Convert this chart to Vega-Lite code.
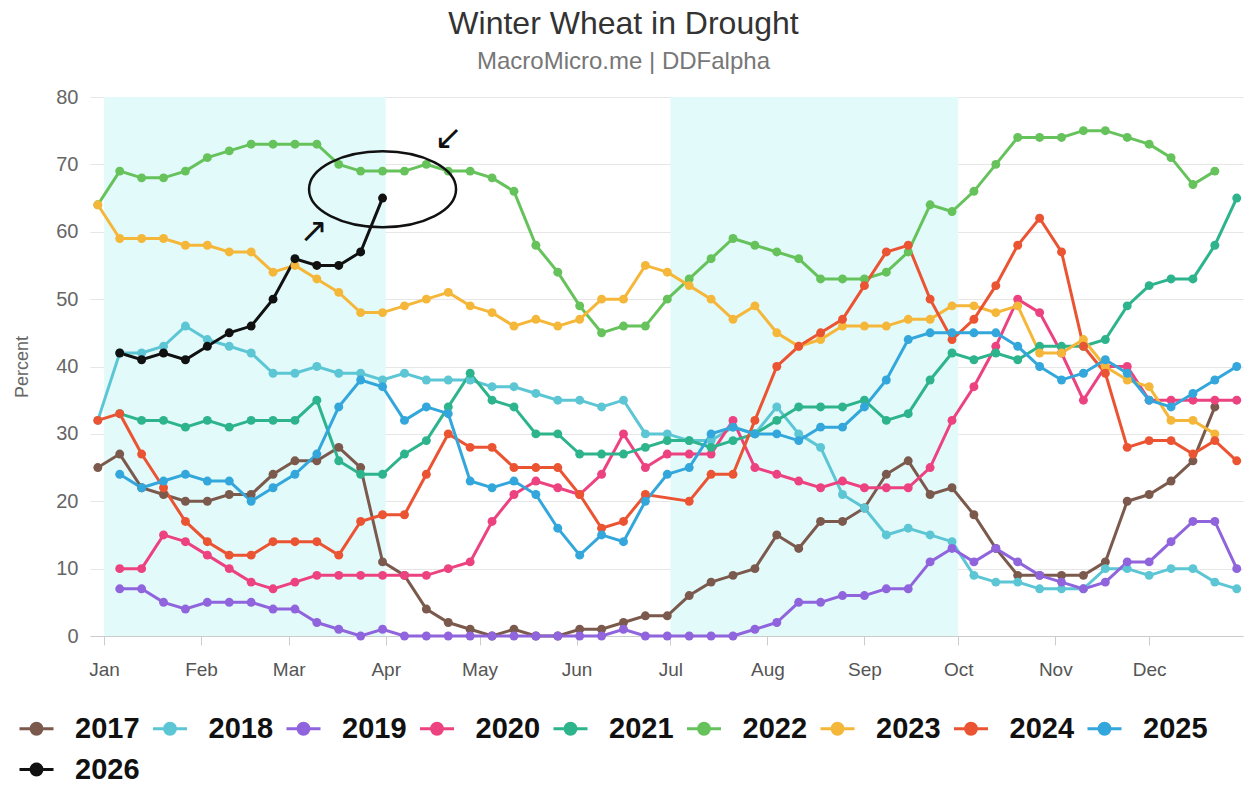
{
"$schema":"https://vega.github.io/schema/vega-lite/v6.json",
"width":1153,"height":539,
"autosize":{"type":"none"},
"padding":{"left":90,"top":97,"right":2,"bottom":149},
"background":"white",
"config":{"view":{"stroke":null},"font":"Liberation Sans"},
"title":{"text":"Winter Wheat in Drought","subtitle":"MacroMicro.me | DDFalpha","fontSize":32,"fontWeight":"normal","color":"#333333","subtitleFontSize":24,"subtitleColor":"#777777","subtitlePadding":9,"anchor":"middle","dx":-43,"offset":12},
"datasets":{
"bands":[{"s":"2025-01-01","e":"2025-04-01"},{"s":"2025-07-01","e":"2025-10-01"}],
"ellipse":[{"d":"2025-03-31","v":66.3}],
"arrows":[{"d":"2025-03-09","v":60,"t":"↗"},{"d":"2025-04-21","v":73.7,"t":"↙"}],
"series":[
{"s":"2017","d":"2024-12-30","v":25},{"s":"2017","d":"2025-01-06","v":27},{"s":"2017","d":"2025-01-13","v":22},{"s":"2017","d":"2025-01-20","v":21},{"s":"2017","d":"2025-01-27","v":20},{"s":"2017","d":"2025-02-03","v":20},{"s":"2017","d":"2025-02-10","v":21},{"s":"2017","d":"2025-02-17","v":21},{"s":"2017","d":"2025-02-24","v":24},{"s":"2017","d":"2025-03-03","v":26},{"s":"2017","d":"2025-03-10","v":26},{"s":"2017","d":"2025-03-17","v":28},{"s":"2017","d":"2025-03-24","v":25},{"s":"2017","d":"2025-03-31","v":11},{"s":"2017","d":"2025-04-07","v":9},{"s":"2017","d":"2025-04-14","v":4},{"s":"2017","d":"2025-04-21","v":2},{"s":"2017","d":"2025-04-28","v":1},{"s":"2017","d":"2025-05-05","v":0},{"s":"2017","d":"2025-05-12","v":1},{"s":"2017","d":"2025-05-19","v":0},{"s":"2017","d":"2025-05-26","v":0},{"s":"2017","d":"2025-06-02","v":1},{"s":"2017","d":"2025-06-09","v":1},{"s":"2017","d":"2025-06-16","v":2},{"s":"2017","d":"2025-06-23","v":3},{"s":"2017","d":"2025-06-30","v":3},{"s":"2017","d":"2025-07-07","v":6},{"s":"2017","d":"2025-07-14","v":8},{"s":"2017","d":"2025-07-21","v":9},{"s":"2017","d":"2025-07-28","v":10},{"s":"2017","d":"2025-08-04","v":15},{"s":"2017","d":"2025-08-11","v":13},{"s":"2017","d":"2025-08-18","v":17},{"s":"2017","d":"2025-08-25","v":17},{"s":"2017","d":"2025-09-01","v":19},{"s":"2017","d":"2025-09-08","v":24},{"s":"2017","d":"2025-09-15","v":26},{"s":"2017","d":"2025-09-22","v":21},{"s":"2017","d":"2025-09-29","v":22},{"s":"2017","d":"2025-10-06","v":18},{"s":"2017","d":"2025-10-13","v":13},{"s":"2017","d":"2025-10-20","v":9},{"s":"2017","d":"2025-10-27","v":9},{"s":"2017","d":"2025-11-03","v":9},{"s":"2017","d":"2025-11-10","v":9},{"s":"2017","d":"2025-11-17","v":11},{"s":"2017","d":"2025-11-24","v":20},{"s":"2017","d":"2025-12-01","v":21},{"s":"2017","d":"2025-12-08","v":23},{"s":"2017","d":"2025-12-15","v":26},{"s":"2017","d":"2025-12-22","v":34},
{"s":"2018","d":"2024-12-30","v":32},{"s":"2018","d":"2025-01-06","v":42},{"s":"2018","d":"2025-01-13","v":42},{"s":"2018","d":"2025-01-20","v":43},{"s":"2018","d":"2025-01-27","v":46},{"s":"2018","d":"2025-02-03","v":44},{"s":"2018","d":"2025-02-10","v":43},{"s":"2018","d":"2025-02-17","v":42},{"s":"2018","d":"2025-02-24","v":39},{"s":"2018","d":"2025-03-03","v":39},{"s":"2018","d":"2025-03-10","v":40},{"s":"2018","d":"2025-03-17","v":39},{"s":"2018","d":"2025-03-24","v":39},{"s":"2018","d":"2025-03-31","v":38},{"s":"2018","d":"2025-04-07","v":39},{"s":"2018","d":"2025-04-14","v":38},{"s":"2018","d":"2025-04-21","v":38},{"s":"2018","d":"2025-04-28","v":38},{"s":"2018","d":"2025-05-05","v":37},{"s":"2018","d":"2025-05-12","v":37},{"s":"2018","d":"2025-05-19","v":36},{"s":"2018","d":"2025-05-26","v":35},{"s":"2018","d":"2025-06-02","v":35},{"s":"2018","d":"2025-06-09","v":34},{"s":"2018","d":"2025-06-16","v":35},{"s":"2018","d":"2025-06-23","v":30},{"s":"2018","d":"2025-06-30","v":30},{"s":"2018","d":"2025-07-07","v":29},{"s":"2018","d":"2025-07-14","v":29},{"s":"2018","d":"2025-07-21","v":31},{"s":"2018","d":"2025-07-28","v":30},{"s":"2018","d":"2025-08-04","v":34},{"s":"2018","d":"2025-08-11","v":30},{"s":"2018","d":"2025-08-18","v":28},{"s":"2018","d":"2025-08-25","v":21},{"s":"2018","d":"2025-09-01","v":19},{"s":"2018","d":"2025-09-08","v":15},{"s":"2018","d":"2025-09-15","v":16},{"s":"2018","d":"2025-09-22","v":15},{"s":"2018","d":"2025-09-29","v":14},{"s":"2018","d":"2025-10-06","v":9},{"s":"2018","d":"2025-10-13","v":8},{"s":"2018","d":"2025-10-20","v":8},{"s":"2018","d":"2025-10-27","v":7},{"s":"2018","d":"2025-11-03","v":7},{"s":"2018","d":"2025-11-10","v":7},{"s":"2018","d":"2025-11-17","v":10},{"s":"2018","d":"2025-11-24","v":10},{"s":"2018","d":"2025-12-01","v":9},{"s":"2018","d":"2025-12-08","v":10},{"s":"2018","d":"2025-12-15","v":10},{"s":"2018","d":"2025-12-22","v":8},{"s":"2018","d":"2025-12-29","v":7},
{"s":"2019","d":"2025-01-06","v":7},{"s":"2019","d":"2025-01-13","v":7},{"s":"2019","d":"2025-01-20","v":5},{"s":"2019","d":"2025-01-27","v":4},{"s":"2019","d":"2025-02-03","v":5},{"s":"2019","d":"2025-02-10","v":5},{"s":"2019","d":"2025-02-17","v":5},{"s":"2019","d":"2025-02-24","v":4},{"s":"2019","d":"2025-03-03","v":4},{"s":"2019","d":"2025-03-10","v":2},{"s":"2019","d":"2025-03-17","v":1},{"s":"2019","d":"2025-03-24","v":0},{"s":"2019","d":"2025-03-31","v":1},{"s":"2019","d":"2025-04-07","v":0},{"s":"2019","d":"2025-04-14","v":0},{"s":"2019","d":"2025-04-21","v":0},{"s":"2019","d":"2025-04-28","v":0},{"s":"2019","d":"2025-05-05","v":0},{"s":"2019","d":"2025-05-12","v":0},{"s":"2019","d":"2025-05-19","v":0},{"s":"2019","d":"2025-05-26","v":0},{"s":"2019","d":"2025-06-02","v":0},{"s":"2019","d":"2025-06-09","v":0},{"s":"2019","d":"2025-06-16","v":1},{"s":"2019","d":"2025-06-23","v":0},{"s":"2019","d":"2025-06-30","v":0},{"s":"2019","d":"2025-07-07","v":0},{"s":"2019","d":"2025-07-14","v":0},{"s":"2019","d":"2025-07-21","v":0},{"s":"2019","d":"2025-07-28","v":1},{"s":"2019","d":"2025-08-04","v":2},{"s":"2019","d":"2025-08-11","v":5},{"s":"2019","d":"2025-08-18","v":5},{"s":"2019","d":"2025-08-25","v":6},{"s":"2019","d":"2025-09-01","v":6},{"s":"2019","d":"2025-09-08","v":7},{"s":"2019","d":"2025-09-15","v":7},{"s":"2019","d":"2025-09-22","v":11},{"s":"2019","d":"2025-09-29","v":13},{"s":"2019","d":"2025-10-06","v":11},{"s":"2019","d":"2025-10-13","v":13},{"s":"2019","d":"2025-10-20","v":11},{"s":"2019","d":"2025-10-27","v":9},{"s":"2019","d":"2025-11-03","v":8},{"s":"2019","d":"2025-11-10","v":7},{"s":"2019","d":"2025-11-17","v":8},{"s":"2019","d":"2025-11-24","v":11},{"s":"2019","d":"2025-12-01","v":11},{"s":"2019","d":"2025-12-08","v":14},{"s":"2019","d":"2025-12-15","v":17},{"s":"2019","d":"2025-12-22","v":17},{"s":"2019","d":"2025-12-29","v":10},
{"s":"2020","d":"2025-01-06","v":10},{"s":"2020","d":"2025-01-13","v":10},{"s":"2020","d":"2025-01-20","v":15},{"s":"2020","d":"2025-01-27","v":14},{"s":"2020","d":"2025-02-03","v":12},{"s":"2020","d":"2025-02-10","v":10},{"s":"2020","d":"2025-02-17","v":8},{"s":"2020","d":"2025-02-24","v":7},{"s":"2020","d":"2025-03-03","v":8},{"s":"2020","d":"2025-03-10","v":9},{"s":"2020","d":"2025-03-17","v":9},{"s":"2020","d":"2025-03-24","v":9},{"s":"2020","d":"2025-03-31","v":9},{"s":"2020","d":"2025-04-07","v":9},{"s":"2020","d":"2025-04-14","v":9},{"s":"2020","d":"2025-04-21","v":10},{"s":"2020","d":"2025-04-28","v":11},{"s":"2020","d":"2025-05-05","v":17},{"s":"2020","d":"2025-05-12","v":21},{"s":"2020","d":"2025-05-19","v":23},{"s":"2020","d":"2025-05-26","v":22},{"s":"2020","d":"2025-06-02","v":21},{"s":"2020","d":"2025-06-09","v":24},{"s":"2020","d":"2025-06-16","v":30},{"s":"2020","d":"2025-06-23","v":25},{"s":"2020","d":"2025-06-30","v":27},{"s":"2020","d":"2025-07-07","v":27},{"s":"2020","d":"2025-07-14","v":27},{"s":"2020","d":"2025-07-21","v":32},{"s":"2020","d":"2025-07-28","v":25},{"s":"2020","d":"2025-08-04","v":24},{"s":"2020","d":"2025-08-11","v":23},{"s":"2020","d":"2025-08-18","v":22},{"s":"2020","d":"2025-08-25","v":23},{"s":"2020","d":"2025-09-01","v":22},{"s":"2020","d":"2025-09-08","v":22},{"s":"2020","d":"2025-09-15","v":22},{"s":"2020","d":"2025-09-22","v":25},{"s":"2020","d":"2025-09-29","v":32},{"s":"2020","d":"2025-10-06","v":37},{"s":"2020","d":"2025-10-13","v":43},{"s":"2020","d":"2025-10-20","v":50},{"s":"2020","d":"2025-10-27","v":48},{"s":"2020","d":"2025-11-03","v":42},{"s":"2020","d":"2025-11-10","v":35},{"s":"2020","d":"2025-11-17","v":40},{"s":"2020","d":"2025-11-24","v":40},{"s":"2020","d":"2025-12-01","v":35},{"s":"2020","d":"2025-12-08","v":35},{"s":"2020","d":"2025-12-15","v":35},{"s":"2020","d":"2025-12-22","v":35},{"s":"2020","d":"2025-12-29","v":35},
{"s":"2021","d":"2025-01-06","v":33},{"s":"2021","d":"2025-01-13","v":32},{"s":"2021","d":"2025-01-20","v":32},{"s":"2021","d":"2025-01-27","v":31},{"s":"2021","d":"2025-02-03","v":32},{"s":"2021","d":"2025-02-10","v":31},{"s":"2021","d":"2025-02-17","v":32},{"s":"2021","d":"2025-02-24","v":32},{"s":"2021","d":"2025-03-03","v":32},{"s":"2021","d":"2025-03-10","v":35},{"s":"2021","d":"2025-03-17","v":26},{"s":"2021","d":"2025-03-24","v":24},{"s":"2021","d":"2025-03-31","v":24},{"s":"2021","d":"2025-04-07","v":27},{"s":"2021","d":"2025-04-14","v":29},{"s":"2021","d":"2025-04-21","v":34},{"s":"2021","d":"2025-04-28","v":39},{"s":"2021","d":"2025-05-05","v":35},{"s":"2021","d":"2025-05-12","v":34},{"s":"2021","d":"2025-05-19","v":30},{"s":"2021","d":"2025-05-26","v":30},{"s":"2021","d":"2025-06-02","v":27},{"s":"2021","d":"2025-06-09","v":27},{"s":"2021","d":"2025-06-16","v":27},{"s":"2021","d":"2025-06-23","v":28},{"s":"2021","d":"2025-06-30","v":29},{"s":"2021","d":"2025-07-07","v":29},{"s":"2021","d":"2025-07-14","v":28},{"s":"2021","d":"2025-07-21","v":29},{"s":"2021","d":"2025-07-28","v":30},{"s":"2021","d":"2025-08-04","v":32},{"s":"2021","d":"2025-08-11","v":34},{"s":"2021","d":"2025-08-18","v":34},{"s":"2021","d":"2025-08-25","v":34},{"s":"2021","d":"2025-09-01","v":35},{"s":"2021","d":"2025-09-08","v":32},{"s":"2021","d":"2025-09-15","v":33},{"s":"2021","d":"2025-09-22","v":38},{"s":"2021","d":"2025-09-29","v":42},{"s":"2021","d":"2025-10-06","v":41},{"s":"2021","d":"2025-10-13","v":42},{"s":"2021","d":"2025-10-20","v":41},{"s":"2021","d":"2025-10-27","v":43},{"s":"2021","d":"2025-11-03","v":43},{"s":"2021","d":"2025-11-10","v":43},{"s":"2021","d":"2025-11-17","v":44},{"s":"2021","d":"2025-11-24","v":49},{"s":"2021","d":"2025-12-01","v":52},{"s":"2021","d":"2025-12-08","v":53},{"s":"2021","d":"2025-12-15","v":53},{"s":"2021","d":"2025-12-22","v":58},{"s":"2021","d":"2025-12-29","v":65},
{"s":"2022","d":"2024-12-30","v":64},{"s":"2022","d":"2025-01-06","v":69},{"s":"2022","d":"2025-01-13","v":68},{"s":"2022","d":"2025-01-20","v":68},{"s":"2022","d":"2025-01-27","v":69},{"s":"2022","d":"2025-02-03","v":71},{"s":"2022","d":"2025-02-10","v":72},{"s":"2022","d":"2025-02-17","v":73},{"s":"2022","d":"2025-02-24","v":73},{"s":"2022","d":"2025-03-03","v":73},{"s":"2022","d":"2025-03-10","v":73},{"s":"2022","d":"2025-03-17","v":70},{"s":"2022","d":"2025-03-24","v":69},{"s":"2022","d":"2025-03-31","v":69},{"s":"2022","d":"2025-04-07","v":69},{"s":"2022","d":"2025-04-14","v":70},{"s":"2022","d":"2025-04-21","v":69},{"s":"2022","d":"2025-04-28","v":69},{"s":"2022","d":"2025-05-05","v":68},{"s":"2022","d":"2025-05-12","v":66},{"s":"2022","d":"2025-05-19","v":58},{"s":"2022","d":"2025-05-26","v":54},{"s":"2022","d":"2025-06-02","v":49},{"s":"2022","d":"2025-06-09","v":45},{"s":"2022","d":"2025-06-16","v":46},{"s":"2022","d":"2025-06-23","v":46},{"s":"2022","d":"2025-06-30","v":50},{"s":"2022","d":"2025-07-07","v":53},{"s":"2022","d":"2025-07-14","v":56},{"s":"2022","d":"2025-07-21","v":59},{"s":"2022","d":"2025-07-28","v":58},{"s":"2022","d":"2025-08-04","v":57},{"s":"2022","d":"2025-08-11","v":56},{"s":"2022","d":"2025-08-18","v":53},{"s":"2022","d":"2025-08-25","v":53},{"s":"2022","d":"2025-09-01","v":53},{"s":"2022","d":"2025-09-08","v":54},{"s":"2022","d":"2025-09-15","v":57},{"s":"2022","d":"2025-09-22","v":64},{"s":"2022","d":"2025-09-29","v":63},{"s":"2022","d":"2025-10-06","v":66},{"s":"2022","d":"2025-10-13","v":70},{"s":"2022","d":"2025-10-20","v":74},{"s":"2022","d":"2025-10-27","v":74},{"s":"2022","d":"2025-11-03","v":74},{"s":"2022","d":"2025-11-10","v":75},{"s":"2022","d":"2025-11-17","v":75},{"s":"2022","d":"2025-11-24","v":74},{"s":"2022","d":"2025-12-01","v":73},{"s":"2022","d":"2025-12-08","v":71},{"s":"2022","d":"2025-12-15","v":67},{"s":"2022","d":"2025-12-22","v":69},
{"s":"2023","d":"2024-12-30","v":64},{"s":"2023","d":"2025-01-06","v":59},{"s":"2023","d":"2025-01-13","v":59},{"s":"2023","d":"2025-01-20","v":59},{"s":"2023","d":"2025-01-27","v":58},{"s":"2023","d":"2025-02-03","v":58},{"s":"2023","d":"2025-02-10","v":57},{"s":"2023","d":"2025-02-17","v":57},{"s":"2023","d":"2025-02-24","v":54},{"s":"2023","d":"2025-03-03","v":55},{"s":"2023","d":"2025-03-10","v":53},{"s":"2023","d":"2025-03-17","v":51},{"s":"2023","d":"2025-03-24","v":48},{"s":"2023","d":"2025-03-31","v":48},{"s":"2023","d":"2025-04-07","v":49},{"s":"2023","d":"2025-04-14","v":50},{"s":"2023","d":"2025-04-21","v":51},{"s":"2023","d":"2025-04-28","v":49},{"s":"2023","d":"2025-05-05","v":48},{"s":"2023","d":"2025-05-12","v":46},{"s":"2023","d":"2025-05-19","v":47},{"s":"2023","d":"2025-05-26","v":46},{"s":"2023","d":"2025-06-02","v":47},{"s":"2023","d":"2025-06-09","v":50},{"s":"2023","d":"2025-06-16","v":50},{"s":"2023","d":"2025-06-23","v":55},{"s":"2023","d":"2025-06-30","v":54},{"s":"2023","d":"2025-07-07","v":52},{"s":"2023","d":"2025-07-14","v":50},{"s":"2023","d":"2025-07-21","v":47},{"s":"2023","d":"2025-07-28","v":49},{"s":"2023","d":"2025-08-04","v":45},{"s":"2023","d":"2025-08-11","v":43},{"s":"2023","d":"2025-08-18","v":44},{"s":"2023","d":"2025-08-25","v":46},{"s":"2023","d":"2025-09-01","v":46},{"s":"2023","d":"2025-09-08","v":46},{"s":"2023","d":"2025-09-15","v":47},{"s":"2023","d":"2025-09-22","v":47},{"s":"2023","d":"2025-09-29","v":49},{"s":"2023","d":"2025-10-06","v":49},{"s":"2023","d":"2025-10-13","v":48},{"s":"2023","d":"2025-10-20","v":49},{"s":"2023","d":"2025-10-27","v":42},{"s":"2023","d":"2025-11-03","v":42},{"s":"2023","d":"2025-11-10","v":44},{"s":"2023","d":"2025-11-17","v":40},{"s":"2023","d":"2025-11-24","v":38},{"s":"2023","d":"2025-12-01","v":37},{"s":"2023","d":"2025-12-08","v":32},{"s":"2023","d":"2025-12-15","v":32},{"s":"2023","d":"2025-12-22","v":30},
{"s":"2024","d":"2024-12-30","v":32},{"s":"2024","d":"2025-01-06","v":33},{"s":"2024","d":"2025-01-13","v":27},{"s":"2024","d":"2025-01-20","v":22},{"s":"2024","d":"2025-01-27","v":17},{"s":"2024","d":"2025-02-03","v":14},{"s":"2024","d":"2025-02-10","v":12},{"s":"2024","d":"2025-02-17","v":12},{"s":"2024","d":"2025-02-24","v":14},{"s":"2024","d":"2025-03-03","v":14},{"s":"2024","d":"2025-03-10","v":14},{"s":"2024","d":"2025-03-17","v":12},{"s":"2024","d":"2025-03-24","v":17},{"s":"2024","d":"2025-03-31","v":18},{"s":"2024","d":"2025-04-07","v":18},{"s":"2024","d":"2025-04-14","v":24},{"s":"2024","d":"2025-04-21","v":30},{"s":"2024","d":"2025-04-28","v":28},{"s":"2024","d":"2025-05-05","v":28},{"s":"2024","d":"2025-05-12","v":25},{"s":"2024","d":"2025-05-19","v":25},{"s":"2024","d":"2025-05-26","v":25},{"s":"2024","d":"2025-06-02","v":21},{"s":"2024","d":"2025-06-09","v":16},{"s":"2024","d":"2025-06-16","v":17},{"s":"2024","d":"2025-06-23","v":21},{"s":"2024","d":"2025-07-07","v":20},{"s":"2024","d":"2025-07-14","v":24},{"s":"2024","d":"2025-07-21","v":24},{"s":"2024","d":"2025-07-28","v":32},{"s":"2024","d":"2025-08-04","v":40},{"s":"2024","d":"2025-08-11","v":43},{"s":"2024","d":"2025-08-18","v":45},{"s":"2024","d":"2025-08-25","v":47},{"s":"2024","d":"2025-09-01","v":52},{"s":"2024","d":"2025-09-08","v":57},{"s":"2024","d":"2025-09-15","v":58},{"s":"2024","d":"2025-09-22","v":50},{"s":"2024","d":"2025-09-29","v":44},{"s":"2024","d":"2025-10-06","v":47},{"s":"2024","d":"2025-10-13","v":52},{"s":"2024","d":"2025-10-20","v":58},{"s":"2024","d":"2025-10-27","v":62},{"s":"2024","d":"2025-11-03","v":57},{"s":"2024","d":"2025-11-10","v":43},{"s":"2024","d":"2025-11-17","v":39},{"s":"2024","d":"2025-11-24","v":28},{"s":"2024","d":"2025-12-01","v":29},{"s":"2024","d":"2025-12-08","v":29},{"s":"2024","d":"2025-12-15","v":27},{"s":"2024","d":"2025-12-22","v":29},{"s":"2024","d":"2025-12-29","v":26},
{"s":"2025","d":"2025-01-06","v":24},{"s":"2025","d":"2025-01-13","v":22},{"s":"2025","d":"2025-01-20","v":23},{"s":"2025","d":"2025-01-27","v":24},{"s":"2025","d":"2025-02-03","v":23},{"s":"2025","d":"2025-02-10","v":23},{"s":"2025","d":"2025-02-17","v":20},{"s":"2025","d":"2025-02-24","v":22},{"s":"2025","d":"2025-03-03","v":24},{"s":"2025","d":"2025-03-10","v":27},{"s":"2025","d":"2025-03-17","v":34},{"s":"2025","d":"2025-03-24","v":38},{"s":"2025","d":"2025-03-31","v":37},{"s":"2025","d":"2025-04-07","v":32},{"s":"2025","d":"2025-04-14","v":34},{"s":"2025","d":"2025-04-21","v":33},{"s":"2025","d":"2025-04-28","v":23},{"s":"2025","d":"2025-05-05","v":22},{"s":"2025","d":"2025-05-12","v":23},{"s":"2025","d":"2025-05-19","v":21},{"s":"2025","d":"2025-05-26","v":16},{"s":"2025","d":"2025-06-02","v":12},{"s":"2025","d":"2025-06-09","v":15},{"s":"2025","d":"2025-06-16","v":14},{"s":"2025","d":"2025-06-23","v":20},{"s":"2025","d":"2025-06-30","v":24},{"s":"2025","d":"2025-07-07","v":25},{"s":"2025","d":"2025-07-14","v":30},{"s":"2025","d":"2025-07-21","v":31},{"s":"2025","d":"2025-07-28","v":30},{"s":"2025","d":"2025-08-04","v":30},{"s":"2025","d":"2025-08-11","v":29},{"s":"2025","d":"2025-08-18","v":31},{"s":"2025","d":"2025-08-25","v":31},{"s":"2025","d":"2025-09-01","v":34},{"s":"2025","d":"2025-09-08","v":38},{"s":"2025","d":"2025-09-15","v":44},{"s":"2025","d":"2025-09-22","v":45},{"s":"2025","d":"2025-09-29","v":45},{"s":"2025","d":"2025-10-06","v":45},{"s":"2025","d":"2025-10-13","v":45},{"s":"2025","d":"2025-10-20","v":43},{"s":"2025","d":"2025-10-27","v":40},{"s":"2025","d":"2025-11-03","v":38},{"s":"2025","d":"2025-11-10","v":39},{"s":"2025","d":"2025-11-17","v":41},{"s":"2025","d":"2025-11-24","v":39},{"s":"2025","d":"2025-12-01","v":35},{"s":"2025","d":"2025-12-08","v":34},{"s":"2025","d":"2025-12-15","v":36},{"s":"2025","d":"2025-12-22","v":38},{"s":"2025","d":"2025-12-29","v":40},
{"s":"2026","d":"2025-01-06","v":42},{"s":"2026","d":"2025-01-13","v":41},{"s":"2026","d":"2025-01-20","v":42},{"s":"2026","d":"2025-01-27","v":41},{"s":"2026","d":"2025-02-03","v":43},{"s":"2026","d":"2025-02-10","v":45},{"s":"2026","d":"2025-02-17","v":46},{"s":"2026","d":"2025-02-24","v":50},{"s":"2026","d":"2025-03-03","v":56},{"s":"2026","d":"2025-03-10","v":55},{"s":"2026","d":"2025-03-17","v":55},{"s":"2026","d":"2025-03-24","v":57},{"s":"2026","d":"2025-03-31","v":65}
]},
"layer":[
{"data":{"name":"bands"},"mark":{"type":"rect","color":"#e3fafb"},
 "encoding":{"x":{"field":"s","type":"temporal","scale":{"type":"utc","domain":["2024-12-27T12:00:00Z","2025-12-31T00:00:00Z"]},
   "axis":{"title":null,"tickCount":{"interval":"month","step":1},"labelExpr":"utcFormat(datum.value, '%b')","grid":false,"domainColor":"#cccccc","tickColor":"#cccccc","tickSize":9,"labelFontSize":19,"labelColor":"#555555","labelPadding":15}},
  "x2":{"field":"e"}}},
{"data":{"name":"series"},"mark":{"type":"line","strokeWidth":3,"point":{"size":80,"filled":true}},
 "encoding":{"x":{"field":"d","type":"temporal"},
  "y":{"field":"v","type":"quantitative","scale":{"domain":[0,80],"nice":false},
   "axis":{"values":[0,10,20,30,40,50,60,70,80],"title":"Percent","titleFontSize":18,"titleFontWeight":"normal","titleColor":"#666666","titlePadding":24,"labelFontSize":20,"labelColor":"#666666","labelPadding":12,"domain":false,"ticks":false,"gridColor":"#e6e6e6"}},
  "color":{"field":"s","type":"nominal","scale":{"domain":["2017","2018","2019","2020","2021","2022","2023","2024","2025","2026"],"range":["#7b5a4d","#5cc6d4","#8f64dc","#ec4380","#2db48c","#66c25b","#f5b73a","#eb5433","#33a7db","#111111"]},
   "legend":{"orient":"none","legendX":-72,"legendY":613,"direction":"horizontal","columns":9,"title":null,"symbolType":"M-1,0L1,0M-0.32,0A0.32,0.32 0 1,0 0.32,0A0.32,0.32 0 1,0 -0.32,0Z","symbolSize":1156,"symbolStrokeWidth":3,"labelFontSize":29,"labelColor":"#111111","labelFontWeight":"bold","labelOffset":20,"columnPadding":6.5,"rowPadding":7,
    "encode":{"symbols":{"update":{"fill":{"scale":"color","field":"value"},"stroke":{"scale":"color","field":"value"}}}}}},
  "order":{"field":"s"}}},
{"data":{"name":"ellipse"},"mark":{"type":"point","shape":"M-1,0A1,0.517 0 1,1 1,0A1,0.517 0 1,1 -1,0Z","size":21609,"filled":false,"stroke":"#111111","strokeWidth":2.5,"opacity":1},
 "encoding":{"x":{"field":"d","type":"temporal"},"y":{"field":"v","type":"quantitative"}}},
{"data":{"name":"arrows"},"mark":{"type":"text","fontSize":34,"color":"#111111","font":"DejaVu Sans"},
 "encoding":{"x":{"field":"d","type":"temporal"},"y":{"field":"v","type":"quantitative"},"text":{"field":"t"}}}
]
}
